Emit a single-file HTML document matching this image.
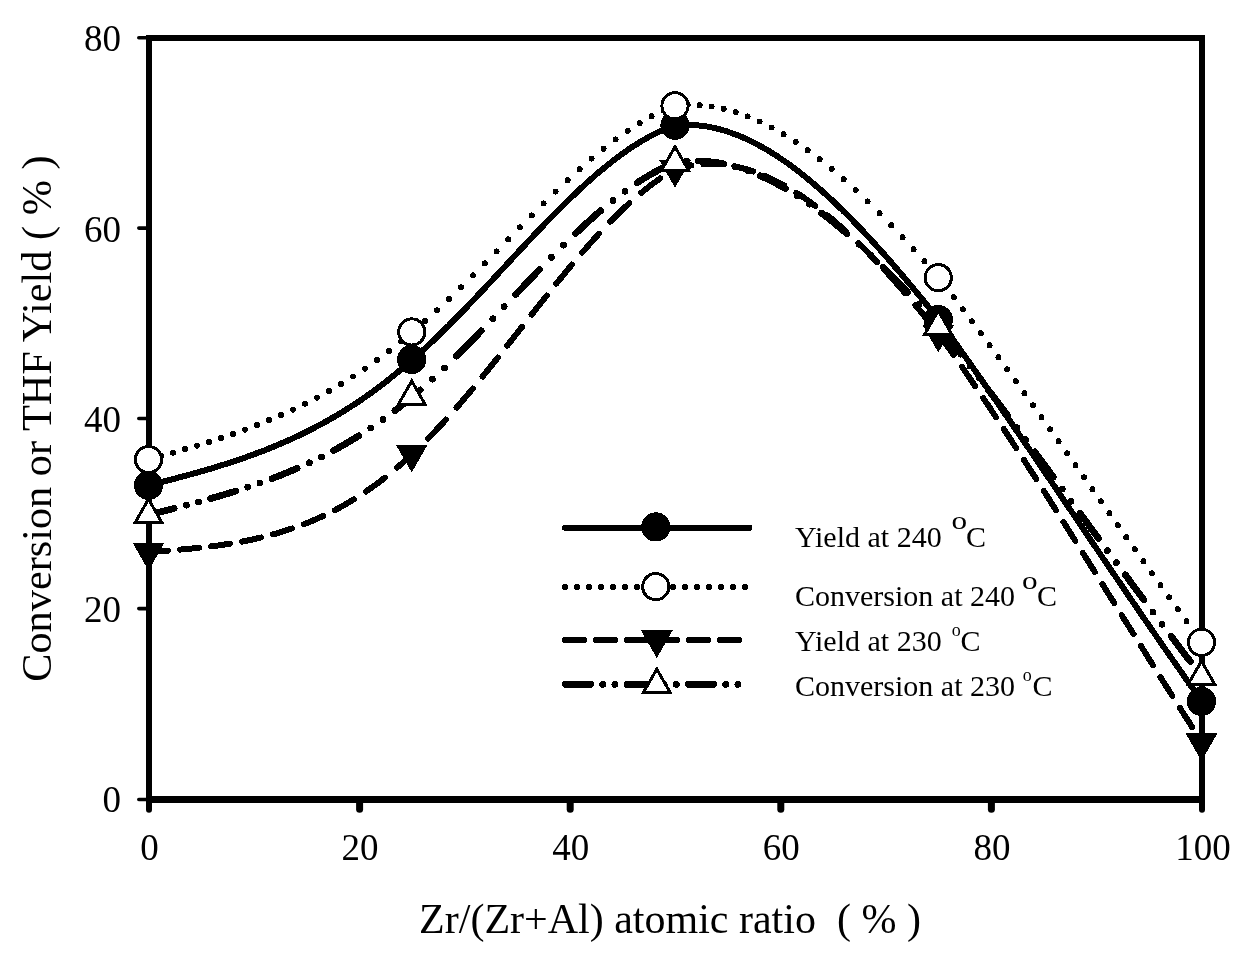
<!DOCTYPE html>
<html><head><meta charset="utf-8"><title>Chart</title>
<style>html,body{margin:0;padding:0;background:#fff;}svg{display:block;will-change:transform;font-family:"Liberation Serif",serif;}text{fill:#000;}</style></head><body>
<svg width="1246" height="958" viewBox="0 0 1246 958" shape-rendering="crispEdges">
<rect x="0" y="0" width="1246" height="958" fill="#fff"/>
<g fill="#000" stroke="none">
<rect x="146.1" y="35" width="5.9" height="770"/>
<rect x="1199" y="35" width="6" height="770"/>
<rect x="146.1" y="35" width="1058.9" height="5.8"/>
<rect x="146.1" y="795.9" width="1058.9" height="7"/>
</g>
<g stroke="#000" stroke-width="7" stroke-linecap="round" fill="none" shape-rendering="geometricPrecision">
<path d="M149.00 800 V809.80" stroke-width="6"/>
<path d="M359.60 800 V809.30" stroke-width="7"/>
<path d="M570.20 800 V809.30" stroke-width="7"/>
<path d="M780.80 800 V809.30" stroke-width="7"/>
<path d="M991.40 800 V809.30" stroke-width="7"/>
<path d="M1202.00 800 V809.80" stroke-width="6"/>
</g>
<g stroke="#000" stroke-width="3.6" stroke-linecap="round" fill="none" shape-rendering="geometricPrecision">
<path d="M138.8 799.50 H147"/>
<path d="M138.8 608.60 H147"/>
<path d="M138.8 418.50 H147"/>
<path d="M138.8 228.10 H147"/>
<path d="M138.8 37.70 H147"/>
</g>
<g font-size="37">
<text x="121" y="811.50" text-anchor="end">0</text>
<text x="121" y="621.50" text-anchor="end">20</text>
<text x="121" y="431.50" text-anchor="end">40</text>
<text x="121" y="241.50" text-anchor="end">60</text>
<text x="121" y="50.60" text-anchor="end">80</text>
<text x="149.50" y="860.3" text-anchor="middle">0</text>
<text x="360.10" y="860.3" text-anchor="middle">20</text>
<text x="570.70" y="860.3" text-anchor="middle">40</text>
<text x="781.30" y="860.3" text-anchor="middle">60</text>
<text x="991.90" y="860.3" text-anchor="middle">80</text>
<text x="1203.00" y="860.3" text-anchor="middle">100</text>
</g>
<text x="670" y="933" font-size="42" text-anchor="middle" xml:space="preserve">Zr/(Zr+Al) atomic ratio  ( % )</text>
<text transform="translate(51 418.6) rotate(-90)" font-size="42.3" text-anchor="middle" xml:space="preserve">Conversion or THF Yield ( % )</text>
<path d="M149.0 485.3 L151.4 484.6 L153.8 484.0 L156.3 483.4 L158.7 482.8 L161.1 482.2 L163.5 481.5 L166.0 480.9 L168.4 480.3 L170.8 479.7 L173.2 479.0 L175.6 478.4 L178.1 477.7 L180.5 477.1 L182.9 476.4 L185.3 475.8 L187.7 475.1 L190.1 474.5 L192.5 473.8 L194.9 473.1 L197.3 472.5 L199.8 471.8 L202.2 471.1 L204.6 470.4 L207.0 469.7 L209.4 469.0 L211.8 468.3 L214.1 467.6 L216.5 466.8 L218.9 466.1 L221.3 465.3 L223.7 464.6 L226.1 463.8 L228.5 463.1 L230.9 462.3 L233.2 461.5 L235.6 460.7 L238.0 459.9 L240.3 459.1 L242.7 458.3 L245.1 457.5 L247.4 456.7 L249.8 455.8 L252.1 455.0 L254.5 454.1 L256.8 453.2 L259.2 452.4 L261.5 451.5 L263.8 450.6 L266.2 449.7 L268.5 448.7 L270.8 447.8 L273.1 446.9 L275.4 445.9 L277.7 444.9 L280.0 444.0 L282.3 443.0 L284.6 442.0 L286.9 441.0 L289.2 440.0 L291.5 438.9 L293.8 437.9 L296.0 436.8 L298.3 435.8 L300.5 434.7 L302.8 433.6 L305.0 432.5 L307.3 431.4 L309.5 430.3 L311.7 429.1 L314.0 428.0 L316.2 426.8 L318.4 425.7 L320.6 424.5 L322.8 423.3 L325.0 422.1 L327.2 420.9 L329.3 419.6 L331.5 418.4 L333.7 417.1 L335.8 415.9 L338.0 414.6 L340.1 413.3 L342.3 412.0 L344.4 410.7 L346.5 409.4 L348.6 408.0 L350.7 406.7 L352.8 405.3 L354.9 404.0 L357.0 402.6 L359.1 401.2 L361.2 399.8 L363.2 398.4 L365.3 397.0 L367.3 395.5 L369.4 394.1 L371.4 392.6 L373.4 391.1 L375.4 389.7 L377.5 388.2 L379.5 386.7 L381.4 385.2 L383.4 383.6 L385.4 382.1 L387.4 380.6 L389.3 379.0 L391.3 377.4 L393.2 375.9 L395.2 374.3 L397.1 372.7 L399.0 371.1 L400.9 369.5 L402.8 367.8 L404.7 366.2 L406.6 364.6 L408.5 362.9 L410.4 361.3 L412.2 359.6 L414.1 358.0 L416.0 356.3 L417.9 354.7 L419.7 353.0 L421.6 351.3 L423.5 349.7 L425.3 348.0 L427.1 346.3 L429.0 344.6 L430.8 342.9 L432.6 341.2 L434.4 339.4 L436.2 337.7 L438.0 336.0 L439.8 334.2 L441.6 332.5 L443.4 330.7 L445.2 329.0 L447.0 327.2 L448.8 325.5 L450.5 323.7 L452.3 321.9 L454.0 320.1 L455.8 318.4 L457.6 316.6 L459.3 314.8 L461.0 313.0 L462.8 311.2 L464.5 309.4 L466.3 307.6 L468.0 305.8 L469.7 304.0 L471.4 302.2 L473.2 300.4 L474.9 298.6 L476.6 296.7 L478.3 294.9 L480.0 293.1 L481.8 291.3 L483.5 289.5 L485.2 287.6 L486.9 285.8 L488.6 284.0 L490.3 282.1 L492.0 280.3 L493.7 278.5 L495.4 276.7 L497.1 274.8 L498.8 273.0 L500.5 271.2 L502.2 269.3 L503.9 267.5 L505.6 265.7 L507.3 263.8 L509.0 262.0 L510.7 260.2 L512.4 258.3 L514.1 256.5 L515.8 254.7 L517.5 252.8 L519.2 251.0 L520.9 249.2 L522.6 247.3 L524.3 245.5 L526.1 243.7 L527.8 241.9 L529.5 240.0 L531.2 238.2 L532.9 236.4 L534.6 234.6 L536.4 232.8 L538.1 231.0 L539.8 229.2 L541.5 227.4 L543.3 225.5 L545.0 223.7 L546.7 221.9 L548.5 220.2 L550.2 218.4 L552.0 216.6 L553.7 214.8 L555.5 213.0 L557.2 211.2 L559.0 209.5 L560.8 207.7 L562.5 205.9 L564.3 204.2 L566.1 202.4 L567.9 200.7 L569.7 198.9 L571.5 197.2 L573.3 195.5 L575.1 193.7 L576.9 192.0 L578.7 190.3 L580.6 188.6 L582.4 186.9 L584.2 185.2 L586.1 183.5 L587.9 181.8 L589.8 180.2 L591.7 178.5 L593.6 176.9 L595.4 175.2 L597.3 173.6 L599.2 172.0 L601.2 170.4 L603.1 168.8 L605.0 167.2 L606.9 165.6 L608.9 164.0 L610.9 162.5 L612.8 160.9 L614.8 159.4 L616.8 157.9 L618.8 156.4 L620.8 154.9 L622.8 153.4 L624.9 152.0 L626.9 150.6 L629.0 149.1 L631.1 147.7 L633.1 146.4 L635.2 145.0 L637.4 143.7 L639.5 142.4 L641.6 141.1 L643.8 139.8 L646.0 138.6 L648.1 137.3 L650.3 136.2 L652.6 135.0 L654.8 133.9 L657.0 132.8 L659.3 131.7 L661.6 130.7 L663.9 129.7 L666.2 128.7 L668.5 127.8 L670.8 126.9 L673.2 126.1 L675.6 125.3 L678.1 125.1 L680.6 124.9 L683.1 124.8 L685.6 124.8 L688.1 124.8 L690.6 124.9 L693.1 125.0 L695.6 125.2 L698.0 125.4 L700.5 125.6 L703.0 126.0 L705.5 126.3 L708.0 126.7 L710.4 127.2 L712.9 127.7 L715.3 128.2 L717.7 128.8 L720.2 129.5 L722.6 130.1 L725.0 130.8 L727.3 131.6 L729.7 132.4 L732.1 133.2 L734.4 134.1 L736.8 135.0 L739.1 135.9 L741.4 136.8 L743.7 137.8 L746.0 138.8 L748.2 139.9 L750.5 141.0 L752.7 142.1 L755.0 143.2 L757.2 144.4 L759.4 145.6 L761.6 146.8 L763.8 148.0 L765.9 149.2 L768.1 150.5 L770.2 151.8 L772.3 153.1 L774.5 154.5 L776.6 155.8 L778.7 157.2 L780.7 158.6 L782.8 160.0 L784.9 161.4 L786.9 162.8 L788.9 164.3 L791.0 165.8 L793.0 167.3 L795.0 168.8 L797.0 170.3 L798.9 171.8 L800.9 173.3 L802.9 174.9 L804.8 176.4 L806.8 178.0 L808.7 179.6 L810.6 181.2 L812.5 182.8 L814.4 184.4 L816.3 186.1 L818.2 187.7 L820.1 189.4 L822.0 191.0 L823.8 192.7 L825.7 194.4 L827.5 196.0 L829.4 197.7 L831.2 199.4 L833.0 201.2 L834.9 202.9 L836.7 204.6 L838.5 206.3 L840.3 208.1 L842.1 209.8 L843.8 211.6 L845.6 213.3 L847.4 215.1 L849.2 216.9 L850.9 218.6 L852.7 220.4 L854.4 222.2 L856.2 224.0 L857.9 225.8 L859.6 227.6 L861.3 229.4 L863.1 231.2 L864.8 233.1 L866.5 234.9 L868.2 236.7 L869.9 238.6 L871.6 240.4 L873.3 242.2 L875.0 244.1 L876.6 245.9 L878.3 247.8 L880.0 249.7 L881.6 251.5 L883.3 253.4 L885.0 255.3 L886.6 257.1 L888.3 259.0 L889.9 260.9 L891.6 262.8 L893.2 264.7 L894.8 266.6 L896.5 268.5 L898.1 270.4 L899.7 272.3 L901.4 274.2 L903.0 276.1 L904.6 278.0 L906.2 279.9 L907.8 281.8 L909.4 283.7 L911.0 285.6 L912.6 287.5 L914.2 289.5 L915.8 291.4 L917.4 293.3 L919.0 295.3 L920.6 297.2 L922.2 299.1 L923.8 301.0 L925.3 303.0 L926.9 304.9 L928.5 306.9 L930.1 308.8 L931.7 310.8 L933.2 312.7 L934.8 314.6 L936.4 316.6 L937.9 318.5 L939.4 320.5 L940.9 322.6 L942.4 324.6 L943.8 326.6 L945.3 328.6 L946.7 330.7 L948.2 332.7 L949.7 334.7 L951.1 336.8 L952.6 338.8 L954.0 340.9 L955.5 342.9 L956.9 344.9 L958.4 347.0 L959.8 349.0 L961.2 351.1 L962.7 353.1 L964.1 355.1 L965.6 357.2 L967.0 359.2 L968.5 361.3 L969.9 363.3 L971.3 365.4 L972.8 367.4 L974.2 369.5 L975.6 371.5 L977.1 373.6 L978.5 375.6 L979.9 377.7 L981.4 379.7 L982.8 381.8 L984.2 383.8 L985.6 385.9 L987.1 387.9 L988.5 390.0 L989.9 392.0 L991.4 394.1 L992.8 396.1 L994.2 398.2 L995.6 400.2 L997.0 402.3 L998.5 404.4 L999.9 406.4 L1001.3 408.5 L1002.7 410.5 L1004.1 412.6 L1005.6 414.7 L1007.0 416.7 L1008.4 418.8 L1009.8 420.8 L1011.2 422.9 L1012.6 425.0 L1014.1 427.0 L1015.5 429.1 L1016.9 431.2 L1018.3 433.2 L1019.7 435.3 L1021.1 437.3 L1022.5 439.4 L1023.9 441.5 L1025.3 443.5 L1026.8 445.6 L1028.2 447.7 L1029.6 449.7 L1031.0 451.8 L1032.4 453.9 L1033.8 455.9 L1035.2 458.0 L1036.6 460.1 L1038.0 462.1 L1039.4 464.2 L1040.8 466.3 L1042.2 468.3 L1043.6 470.4 L1045.0 472.5 L1046.4 474.6 L1047.8 476.6 L1049.3 478.7 L1050.7 480.8 L1052.1 482.8 L1053.5 484.9 L1054.9 487.0 L1056.3 489.0 L1057.7 491.1 L1059.1 493.2 L1060.5 495.3 L1061.9 497.3 L1063.3 499.4 L1064.7 501.5 L1066.1 503.5 L1067.5 505.6 L1068.9 507.7 L1070.3 509.8 L1071.7 511.8 L1073.1 513.9 L1074.5 516.0 L1075.9 518.0 L1077.3 520.1 L1078.7 522.2 L1080.1 524.3 L1081.5 526.3 L1082.9 528.4 L1084.3 530.5 L1085.7 532.5 L1087.1 534.6 L1088.5 536.7 L1089.9 538.8 L1091.3 540.8 L1092.7 542.9 L1094.1 545.0 L1095.5 547.0 L1096.9 549.1 L1098.3 551.2 L1099.7 553.3 L1101.1 555.3 L1102.5 557.4 L1103.9 559.5 L1105.3 561.5 L1106.7 563.6 L1108.1 565.7 L1109.5 567.7 L1110.9 569.8 L1112.3 571.9 L1113.7 573.9 L1115.2 576.0 L1116.6 578.1 L1118.0 580.2 L1119.4 582.2 L1120.8 584.3 L1122.2 586.4 L1123.6 588.4 L1125.0 590.5 L1126.4 592.6 L1127.8 594.6 L1129.2 596.7 L1130.6 598.8 L1132.0 600.8 L1133.5 602.9 L1134.9 604.9 L1136.3 607.0 L1137.7 609.1 L1139.1 611.1 L1140.5 613.2 L1141.9 615.3 L1143.3 617.3 L1144.8 619.4 L1146.2 621.5 L1147.6 623.5 L1149.0 625.6 L1150.4 627.6 L1151.8 629.7 L1153.3 631.8 L1154.7 633.8 L1156.1 635.9 L1157.5 637.9 L1158.9 640.0 L1160.4 642.0 L1161.8 644.1 L1163.2 646.2 L1164.6 648.2 L1166.1 650.3 L1167.5 652.3 L1168.9 654.4 L1170.3 656.4 L1171.8 658.5 L1173.2 660.5 L1174.6 662.6 L1176.1 664.6 L1177.5 666.7 L1178.9 668.7 L1180.4 670.8 L1181.8 672.8 L1183.2 674.9 L1184.7 676.9 L1186.1 679.0 L1187.5 681.0 L1189.0 683.1 L1190.4 685.1 L1191.9 687.1 L1193.3 689.2 L1194.8 691.2 L1196.2 693.3 L1197.7 695.3 L1199.1 697.3 L1200.5 699.4 L1202.0 701.4" fill="none" stroke="#000" stroke-width="6.0" stroke-linecap="round" stroke-linejoin="round"/>
<circle cx="148.50" cy="485.26" r="14.6" fill="#000"/>
<circle cx="411.75" cy="359.56" r="14.6" fill="#000"/>
<circle cx="675.00" cy="125.31" r="14.6" fill="#000"/>
<circle cx="938.25" cy="319.57" r="14.6" fill="#000"/>
<circle cx="1201.50" cy="701.42" r="14.6" fill="#000"/>
<path d="M149.0 459.5h0.01M161.0 456.2h0.01M173.0 452.8h0.01M185.0 449.2h0.01M197.0 445.6h0.01M209.0 441.9h0.01M221.0 438.0h0.01M233.0 433.9h0.01M245.0 429.6h0.01M257.0 425.0h0.01M269.0 420.2h0.01M281.0 415.0h0.01M293.0 409.6h0.01M305.0 403.8h0.01M317.0 397.6h0.01M329.0 391.0h0.01M341.0 384.0h0.01M353.0 376.5h0.01M365.0 368.6h0.01M377.0 360.1h0.01M389.0 351.1h0.01M401.0 341.5h0.01M413.0 331.3h0.01M425.0 321.1h0.01M437.0 310.3h0.01M449.0 299.0h0.01M461.0 287.3h0.01M473.0 275.4h0.01M484.8 263.4h0.01M496.6 251.4h0.01M508.2 239.4h0.01M519.9 227.4h0.01M531.7 215.4h0.01M543.6 203.4h0.01M555.6 191.6h0.01M567.6 180.2h0.01M579.6 169.2h0.01M591.6 158.6h0.01M603.6 148.7h0.01M615.6 139.4h0.01M627.6 130.9h0.01M639.6 123.1h0.01M651.6 116.3h0.01M663.6 110.5h0.01M675.6 105.8h0.01M687.6 104.9h0.01M699.6 105.2h0.01M711.6 106.5h0.01M723.6 108.8h0.01M735.6 112.1h0.01M747.6 116.4h0.01M759.6 121.5h0.01M771.6 127.5h0.01M783.6 134.3h0.01M795.6 141.9h0.01M807.6 150.2h0.01M819.6 159.2h0.01M831.6 168.9h0.01M843.6 179.2h0.01M855.6 190.0h0.01M867.6 201.4h0.01M879.6 213.3h0.01M891.3 225.3h0.01M902.6 237.3h0.01M913.6 249.3h0.01M924.4 261.3h0.01M935.0 273.3h0.01M944.6 285.3h0.01M953.8 297.3h0.01M962.9 309.3h0.01M971.9 321.3h0.01M980.8 333.3h0.01M989.6 345.3h0.01M998.4 357.3h0.01M1007.1 369.3h0.01M1015.8 381.3h0.01M1024.4 393.3h0.01M1033.0 405.3h0.01M1041.5 417.3h0.01M1050.1 429.3h0.01M1058.6 441.3h0.01M1067.1 453.3h0.01M1075.5 465.3h0.01M1084.0 477.3h0.01M1092.4 489.3h0.01M1100.9 501.3h0.01M1109.4 513.3h0.01M1117.8 525.3h0.01M1126.3 537.3h0.01M1134.8 549.3h0.01M1143.4 561.3h0.01M1151.9 573.3h0.01M1160.5 585.3h0.01M1169.1 597.3h0.01M1177.8 609.3h0.01M1186.5 621.3h0.01M1195.3 633.3h0.01" fill="none" stroke="#000" stroke-width="6.0" stroke-linecap="round" stroke-linejoin="round"/>
<circle cx="148.50" cy="459.55" r="13.1" fill="#fff" stroke="#000" stroke-width="3"/>
<circle cx="411.75" cy="331.95" r="13.1" fill="#fff" stroke="#000" stroke-width="3"/>
<circle cx="675.00" cy="105.79" r="13.1" fill="#fff" stroke="#000" stroke-width="3"/>
<circle cx="938.25" cy="277.67" r="13.1" fill="#fff" stroke="#000" stroke-width="3"/>
<circle cx="1201.50" cy="642.38" r="13.1" fill="#fff" stroke="#000" stroke-width="3"/>
<path d="M149.0 551.9 L153.8 551.6 L158.5 551.3 L163.2 550.9 L168.0 550.6M180.0 549.6 L184.8 549.2 L189.5 548.8 L194.2 548.3 L199.0 547.8M211.0 546.4 L215.8 545.8 L220.5 545.1 L225.2 544.4 L230.0 543.7M242.0 541.6 L246.8 540.7 L251.5 539.7 L256.2 538.6 L261.0 537.5M273.0 534.4 L277.8 533.1 L282.5 531.6 L287.2 530.1 L292.0 528.5M304.0 524.2 L308.8 522.3 L313.5 520.3 L318.2 518.2 L323.0 516.0M335.0 510.1 L339.8 507.6 L344.5 504.9 L349.2 502.2 L354.0 499.3M366.0 491.5 L370.8 488.2 L375.5 484.8 L380.2 481.3 L385.0 477.6M397.0 467.7 L401.8 463.5 L406.5 459.2 L411.2 454.8 L416.0 450.4M428.0 438.6 L432.6 433.9 L437.1 429.1 L441.6 424.4 L445.9 419.6M456.6 407.6 L460.7 402.9 L464.7 398.1 L468.7 393.4 L472.7 388.6M482.5 376.6 L486.4 371.9 L490.2 367.1 L494.0 362.4 L497.8 357.6M507.3 345.6 L511.0 340.9 L514.7 336.1 L518.5 331.4 L522.2 326.6M531.6 314.6 L535.4 309.9 L539.1 305.1 L542.9 300.4 L546.7 295.6M556.3 283.6 L560.2 278.9 L564.1 274.1 L568.0 269.4 L571.9 264.6M582.1 252.6 L586.3 247.9 L590.4 243.1 L594.7 238.4 L599.0 233.6M610.4 221.6 L615.1 216.9 L619.8 212.2 L624.6 207.6 L629.3 203.2M641.3 192.8 L646.1 188.9 L650.8 185.2 L655.6 181.7 L660.3 178.4M672.3 170.9 L677.1 168.6 L681.8 167.3 L686.6 166.3 L691.3 165.4M703.3 164.1 L708.1 163.9 L712.8 163.9 L717.6 164.1 L722.3 164.5M734.3 166.3 L739.1 167.3 L743.8 168.6 L748.6 169.9 L753.3 171.5M765.3 176.1 L770.1 178.3 L774.8 180.5 L779.6 183.0 L784.3 185.5M796.3 192.7 L801.1 195.8 L805.8 199.0 L810.6 202.4 L815.3 205.9M827.3 215.3 L832.1 219.2 L836.8 223.3 L841.6 227.5 L846.3 231.8M858.3 243.1 L863.1 247.8 L867.8 252.5 L872.4 257.3 L877.0 262.0M888.1 274.0 L892.4 278.8 L896.7 283.5 L900.8 288.3 L905.0 293.0M915.2 305.0 L919.2 309.8 L923.1 314.5 L927.0 319.3 L930.8 324.0M940.3 336.0 L943.7 340.8 L947.0 345.5 L950.4 350.3 L953.7 355.0M962.1 367.0 L965.4 371.8 L968.6 376.5 L971.9 381.3 L975.1 386.0M983.2 398.0 L986.4 402.8 L989.6 407.5 L992.7 412.3 L995.9 417.0M1003.8 429.0 L1006.9 433.8 L1010.0 438.5 L1013.1 443.3 L1016.2 448.0M1024.0 460.0 L1027.0 464.8 L1030.1 469.5 L1033.2 474.3 L1036.2 479.0M1043.9 491.0 L1046.9 495.8 L1049.9 500.5 L1052.9 505.3 L1055.9 510.0M1063.5 522.0 L1066.5 526.8 L1069.5 531.5 L1072.4 536.3 L1075.4 541.0M1082.9 553.0 L1085.9 557.8 L1088.9 562.5 L1091.9 567.3 L1094.8 572.0M1102.3 584.0 L1105.3 588.8 L1108.2 593.5 L1111.2 598.3 L1114.2 603.0M1121.6 615.0 L1124.6 619.8 L1127.6 624.5 L1130.5 629.3 L1133.5 634.0M1141.0 646.0 L1144.0 650.8 L1146.9 655.5 L1149.9 660.3 L1152.9 665.0M1160.4 677.0 L1163.4 681.8 L1166.4 686.5 L1169.4 691.3 L1172.4 696.0M1180.0 708.0 L1183.0 712.8 L1186.1 717.5 L1189.1 722.3 L1192.1 727.0M1199.8 739.0 L1202.0 742.4" fill="none" stroke="#000" stroke-width="6.0" stroke-linecap="round" stroke-linejoin="round"/>
<path d="M132.50 542.58 L164.50 542.58 L148.50 570.58 Z" fill="#000"/>
<path d="M395.75 444.50 L427.75 444.50 L411.75 472.50 Z" fill="#000"/>
<path d="M659.00 159.78 L691.00 159.78 L675.00 187.78 Z" fill="#000"/>
<path d="M922.25 324.52 L954.25 324.52 L938.25 352.52 Z" fill="#000"/>
<path d="M1185.50 733.03 L1217.50 733.03 L1201.50 761.03 Z" fill="#000"/>
<path d="M149.0 514.8 L153.2 513.7 L157.4 512.7 L161.6 511.6 L165.8 510.5 L170.0 509.5 L174.2 508.4M186.3 505.2h0.01M198.4 502.0h0.01M210.5 498.6 L214.7 497.4 L218.9 496.2 L223.1 495.0 L227.3 493.7 L231.5 492.4 L235.7 491.1M247.8 487.2h0.01M259.9 483.0h0.01M272.0 478.6 L276.2 476.9 L280.4 475.3 L284.6 473.6 L288.8 471.9 L293.0 470.1 L297.2 468.3M309.3 462.8h0.01M321.4 456.9h0.01M333.5 450.5 L337.7 448.2 L341.9 445.9 L346.1 443.5 L350.3 441.0 L354.5 438.4 L358.7 435.8M370.8 428.0h0.01M382.9 419.6h0.01M395.0 410.6 L399.2 407.3 L403.4 404.0 L407.6 400.6 L411.8 397.1 L416.0 393.6 L420.2 390.0M432.3 379.2h0.01M444.4 367.9h0.01M456.5 356.1 L460.7 351.9 L464.9 347.7 L469.0 343.5 L473.1 339.3 L477.2 335.1 L481.2 330.9M492.8 318.8h0.01M504.2 306.7h0.01M515.7 294.6 L519.6 290.4 L523.6 286.2 L527.6 282.0 L531.6 277.8 L535.6 273.6 L539.7 269.4M551.4 257.3h0.01M563.5 245.2h0.01M575.6 233.5 L579.8 229.5 L584.0 225.6 L588.2 221.7 L592.4 218.0 L596.6 214.2 L600.8 210.6M612.9 200.6h0.01M625.0 191.3h0.01M637.1 182.8 L641.3 180.1 L645.5 177.5 L649.7 175.0 L653.9 172.6 L658.1 170.4 L662.3 168.3M674.4 162.9h0.01M686.5 161.2h0.01M698.6 161.0 L702.8 161.1 L707.0 161.4 L711.2 161.9 L715.4 162.4 L719.6 163.1 L723.8 163.9M735.9 166.9h0.01M748.0 170.9h0.01M760.1 175.7 L764.3 177.6 L768.5 179.6 L772.7 181.7 L776.9 183.9 L781.1 186.2 L785.3 188.6M797.4 196.1h0.01M809.5 204.2h0.01M821.6 213.1 L825.8 216.3 L830.0 219.6 L834.2 223.0 L838.4 226.5 L842.6 230.0 L846.8 233.6M858.9 244.3h0.01M871.0 255.6h0.01M883.1 267.3 L887.3 271.5 L891.4 275.7 L895.6 279.9 L899.7 284.1 L903.7 288.3 L907.7 292.5M919.0 304.6h0.01M930.2 316.7h0.01M940.8 328.8 L944.2 333.0 L947.5 337.2 L950.8 341.4 L954.1 345.6 L957.4 349.8 L960.7 354.0M970.1 366.1h0.01M979.4 378.2h0.01M988.6 390.3 L991.8 394.5 L995.0 398.7 L998.2 402.9 L1001.3 407.1 L1004.5 411.3 L1007.6 415.5M1016.7 427.6h0.01M1025.7 439.7h0.01M1034.7 451.8 L1037.8 456.0 L1040.9 460.2 L1044.0 464.4 L1047.1 468.6 L1050.2 472.8 L1053.3 477.0M1062.3 489.1h0.01M1071.1 501.2h0.01M1080.0 513.3 L1083.1 517.5 L1086.2 521.7 L1089.3 525.9 L1092.4 530.1 L1095.5 534.3 L1098.5 538.5M1107.4 550.6h0.01M1116.4 562.7h0.01M1125.3 574.8 L1128.4 579.0 L1131.5 583.2 L1134.6 587.4 L1137.7 591.6 L1140.8 595.8 L1144.0 600.0M1153.0 612.1h0.01M1162.0 624.2h0.01M1171.2 636.3 L1174.3 640.5 L1177.5 644.7 L1180.7 648.9 L1183.9 653.1 L1187.1 657.3 L1190.3 661.5M1199.6 673.6h0.01" fill="none" stroke="#000" stroke-width="6.8" stroke-linecap="round" stroke-linejoin="round"/>
<path d="M132.50 524.11 L164.50 524.11 L148.50 496.11 Z" fill="#000"/><path d="M137.67 521.11 L159.33 521.11 L148.50 502.16 Z" fill="#fff"/>
<path d="M395.75 406.03 L427.75 406.03 L411.75 378.03 Z" fill="#000"/><path d="M400.92 403.03 L422.58 403.03 L411.75 384.08 Z" fill="#fff"/>
<path d="M659.00 171.78 L691.00 171.78 L675.00 143.78 Z" fill="#000"/><path d="M664.17 168.78 L685.83 168.78 L675.00 149.82 Z" fill="#fff"/>
<path d="M922.25 335.57 L954.25 335.57 L938.25 307.57 Z" fill="#000"/><path d="M927.42 332.57 L949.08 332.57 L938.25 313.61 Z" fill="#fff"/>
<path d="M1185.50 685.99 L1217.50 685.99 L1201.50 657.99 Z" fill="#000"/><path d="M1190.67 682.99 L1212.33 682.99 L1201.50 664.04 Z" fill="#fff"/>
<path d="M564.9 527.7H749.5" fill="none" stroke="#000" stroke-width="6" stroke-linecap="round"/>
<circle cx="655.80" cy="526.90" r="14.6" fill="#000"/>
<path d="M565.0 587.2h0.01M577.0 587.2h0.01M589.0 587.2h0.01M601.0 587.2h0.01M613.0 587.2h0.01M625.0 587.2h0.01M637.0 587.2h0.01M649.0 587.2h0.01M661.0 587.2h0.01M673.0 587.2h0.01M685.0 587.2h0.01M697.0 587.2h0.01M709.0 587.2h0.01M721.0 587.2h0.01M733.0 587.2h0.01M745.0 587.2h0.01" fill="none" stroke="#000" stroke-width="6.0" stroke-linecap="round"/>
<circle cx="655.80" cy="586.60" r="13.1" fill="#fff" stroke="#000" stroke-width="3"/>
<path d="M565.0 640.0 L569.8 640.0 L574.5 640.0 L579.2 640.0 L584.0 640.0M596.0 640.0 L600.8 640.0 L605.5 640.0 L610.2 640.0 L615.0 640.0M627.0 640.0 L631.8 640.0 L636.5 640.0 L641.2 640.0 L646.0 640.0M658.0 640.0 L662.8 640.0 L667.5 640.0 L672.2 640.0 L677.0 640.0M689.0 640.0 L693.8 640.0 L698.5 640.0 L703.2 640.0 L708.0 640.0M720.0 640.0 L724.8 640.0 L729.5 640.0 L734.2 640.0 L739.0 640.0" fill="none" stroke="#000" stroke-width="6.0" stroke-linecap="round"/>
<path d="M640.80 630.07 L672.80 630.07 L656.80 658.07 Z" fill="#000"/>
<path d="M565.4 684.4 L569.6 684.4 L573.8 684.4 L578.0 684.4 L582.2 684.4 L586.4 684.4 L590.6 684.4M602.7 684.4h0.01M614.8 684.4h0.01M626.9 684.4 L631.1 684.4 L635.3 684.4 L639.5 684.4 L643.7 684.4 L647.9 684.4 L652.1 684.4M664.2 684.4h0.01M676.3 684.4h0.01M688.4 684.4 L692.6 684.4 L696.8 684.4 L701.0 684.4 L705.2 684.4 L709.4 684.4 L713.6 684.4M725.7 684.4h0.01M737.8 684.4h0.01" fill="none" stroke="#000" stroke-width="6.8" stroke-linecap="round"/>
<path d="M640.80 694.03 L672.80 694.03 L656.80 666.03 Z" fill="#000"/><path d="M645.97 691.03 L667.63 691.03 L656.80 672.08 Z" fill="#fff"/>
<g font-size="30" xml:space="preserve">
<text x="795" y="546.5">Yield at 240 <tspan x="965.9">C</tspan></text>
<text transform="translate(951.6 528.6) scale(1.2 1)" font-size="26">o</text>
<text x="795" y="606">Conversion at 240 <tspan x="1036.9">C</tspan></text>
<text transform="translate(1022.1 588.6) scale(1.2 1)" font-size="26">o</text>
<text x="795" y="650.5">Yield at 230 <tspan font-size="18" x="951.8" dy="-15">o</tspan><tspan x="960.5" dy="15">C</tspan></text>
<text x="795" y="695.5">Conversion at 230 <tspan font-size="18" x="1022.8" dy="-15">o</tspan><tspan x="1032.6" dy="15">C</tspan></text>
</g>
</svg></body></html>
